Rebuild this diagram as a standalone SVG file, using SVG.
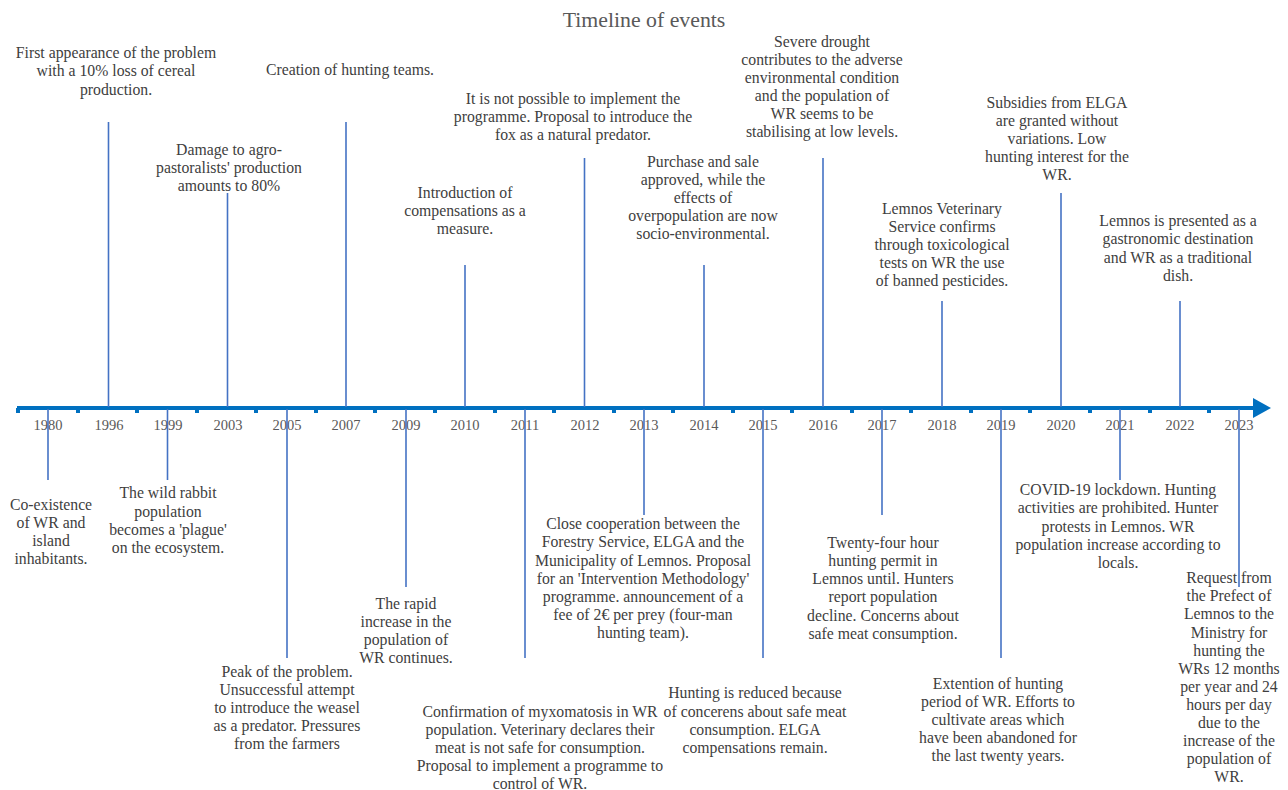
<svg xmlns="http://www.w3.org/2000/svg" width="1288" height="790" viewBox="0 0 1288 790">
<style>
.t{font-family:'Liberation Serif','DejaVu Serif',serif;font-size:15.75px;fill:#404040;text-anchor:middle}
.y{font-family:'Liberation Serif','DejaVu Serif',serif;font-size:14.5px;fill:#595959;text-anchor:middle}
.title{font-family:'Liberation Serif','DejaVu Serif',serif;font-size:21.8px;fill:#595959;text-anchor:middle}
.c{stroke:#4472C4;stroke-width:1.6;fill:none}
.axis{stroke:#0070C0;stroke-width:4;fill:none}
.tick{fill:#0070C0}
</style>
<defs>
<marker id="ah" markerWidth="5" markerHeight="5" refX="0" refY="2.5" orient="auto" markerUnits="strokeWidth">
<path d="M0,0 L4.5,2.5 L0,5 Z" fill="#0070C0"/>
</marker>
</defs>
<rect width="1288" height="790" fill="#ffffff"/>
<text class="title" x="644" y="27">Timeline of events</text>

<g id="axis">
<line class="axis" x1="17" y1="408" x2="1253" y2="408" marker-end="url(#ah)"/>
<g class="tick">
<rect x="16" y="408" width="4" height="5"/><rect x="76" y="408" width="4" height="5"/><rect x="135" y="408" width="4" height="5"/><rect x="195" y="408" width="4" height="5"/><rect x="254" y="408" width="4" height="5"/><rect x="314" y="408" width="4" height="5"/><rect x="373" y="408" width="4" height="5"/><rect x="433" y="408" width="4" height="5"/><rect x="493" y="408" width="4" height="5"/><rect x="552" y="408" width="4" height="5"/><rect x="612" y="408" width="4" height="5"/><rect x="671" y="408" width="4" height="5"/><rect x="731" y="408" width="4" height="5"/><rect x="790" y="408" width="4" height="5"/><rect x="850" y="408" width="4" height="5"/><rect x="909" y="408" width="4" height="5"/><rect x="969" y="408" width="4" height="5"/><rect x="1028" y="408" width="4" height="5"/><rect x="1088" y="408" width="4" height="5"/><rect x="1148" y="408" width="4" height="5"/><rect x="1207" y="408" width="4" height="5"/>
</g>
<g>
<text class="y" x="48" y="430">1980</text><text class="y" x="109" y="430">1996</text><text class="y" x="168" y="430">1999</text><text class="y" x="228" y="430">2003</text><text class="y" x="287" y="430">2005</text><text class="y" x="346" y="430">2007</text><text class="y" x="406" y="430">2009</text><text class="y" x="465" y="430">2010</text><text class="y" x="525" y="430">2011</text><text class="y" x="585" y="430">2012</text><text class="y" x="644" y="430">2013</text><text class="y" x="704" y="430">2014</text><text class="y" x="763" y="430">2015</text><text class="y" x="823" y="430">2016</text><text class="y" x="882" y="430">2017</text><text class="y" x="942" y="430">2018</text><text class="y" x="1001" y="430">2019</text><text class="y" x="1061" y="430">2020</text><text class="y" x="1120" y="430">2021</text><text class="y" x="1180" y="430">2022</text><text class="y" x="1239" y="430">2023</text>
</g>
</g>

<g id="connectors">
<line class="c" x1="108.5" y1="122" x2="108.5" y2="407"/>
<line class="c" x1="227.5" y1="193" x2="227.5" y2="407"/>
<line class="c" x1="346" y1="122" x2="346" y2="407"/>
<line class="c" x1="465" y1="265" x2="465" y2="407"/>
<line class="c" x1="584.5" y1="158" x2="584.5" y2="407"/>
<line class="c" x1="704" y1="265" x2="704" y2="407"/>
<line class="c" x1="823" y1="158" x2="823" y2="407"/>
<line class="c" x1="942" y1="301" x2="942" y2="407"/>
<line class="c" x1="1061" y1="193" x2="1061" y2="407"/>
<line class="c" x1="1180" y1="301" x2="1180" y2="407"/>
<line class="c" x1="48" y1="409" x2="48" y2="480"/>
<line class="c" x1="167.5" y1="409" x2="167.5" y2="480"/>
<line class="c" x1="287" y1="409" x2="287" y2="658"/>
<line class="c" x1="406" y1="409" x2="406" y2="587"/>
<line class="c" x1="525" y1="409" x2="525" y2="658"/>
<line class="c" x1="644" y1="409" x2="644" y2="515"/>
<line class="c" x1="763" y1="409" x2="763" y2="658"/>
<line class="c" x1="882" y1="409" x2="882" y2="515"/>
<line class="c" x1="1001" y1="409" x2="1001" y2="658"/>
<line class="c" x1="1120" y1="409" x2="1120" y2="480"/>
<line class="c" x1="1239" y1="409" x2="1239" y2="587"/>
</g>

<g id="e1996"><text class="t" x="116" y="58">First appearance  of the problem</text><text class="t" x="116" y="76">with a 10% loss of cereal</text><text class="t" x="116" y="95">production.</text></g>
<g id="e2003"><text class="t" x="229" y="155">Damage to agro-</text><text class="t" x="229" y="173">pastoralists' production</text><text class="t" x="229" y="191">amounts to 80%</text></g>
<g id="e2007"><text class="t" x="350" y="75">Creation of hunting teams.</text></g>
<g id="e2010"><text class="t" x="465" y="198">Introduction of</text><text class="t" x="465" y="216">compensations as a</text><text class="t" x="465" y="234">measure.</text></g>
<g id="e2012"><text class="t" x="573" y="104">It is not possible to implement the</text><text class="t" x="573" y="122">programme. Proposal to introduce the</text><text class="t" x="573" y="140">fox as a natural predator.</text></g>
<g id="e2014"><text class="t" x="703" y="167">Purchase and sale</text><text class="t" x="703" y="185">approved, while the</text><text class="t" x="703" y="203">effects of</text><text class="t" x="703" y="221">overpopulation are now</text><text class="t" x="703" y="239">socio-environmental.</text></g>
<g id="e2016"><text class="t" x="822" y="47">Severe drought</text><text class="t" x="822" y="65">contributes to the adverse</text><text class="t" x="822" y="83">environmental condition</text><text class="t" x="822" y="101">and the population of</text><text class="t" x="822" y="119">WR seems to be</text><text class="t" x="822" y="137">stabilising at low levels.</text></g>
<g id="e2018"><text class="t" x="942" y="214">Lemnos Veterinary</text><text class="t" x="942" y="232">Service confirms</text><text class="t" x="942" y="250">through toxicological</text><text class="t" x="942" y="268">tests on WR the use</text><text class="t" x="942" y="286">of banned pesticides.</text></g>
<g id="e2020"><text class="t" x="1057" y="108">Subsidies from ELGA</text><text class="t" x="1057" y="126">are granted without</text><text class="t" x="1057" y="144">variations. Low</text><text class="t" x="1057" y="162">hunting interest for the</text><text class="t" x="1057" y="180">WR.</text></g>
<g id="e2022"><text class="t" x="1178" y="226">Lemnos is presented as a</text><text class="t" x="1178" y="244">gastronomic destination</text><text class="t" x="1178" y="263">and WR as a traditional</text><text class="t" x="1178" y="281">dish.</text></g>

<g id="e1980"><text class="t" x="51" y="510">Co-existence</text><text class="t" x="51" y="528">of WR and</text><text class="t" x="51" y="546">island</text><text class="t" x="51" y="564">inhabitants.</text></g>
<g id="e1999"><text class="t" x="168" y="498">The wild rabbit</text><text class="t" x="168" y="517">population</text><text class="t" x="168" y="535">becomes a 'plague'</text><text class="t" x="168" y="553">on the ecosystem.</text></g>
<g id="e2005"><text class="t" x="287" y="677">Peak of the problem.</text><text class="t" x="287" y="695">Unsuccessful attempt</text><text class="t" x="287" y="713">to introduce the weasel</text><text class="t" x="287" y="731">as a predator. Pressures</text><text class="t" x="287" y="749">from the farmers</text></g>
<g id="e2009"><text class="t" x="406" y="609">The rapid</text><text class="t" x="406" y="627">increase in the</text><text class="t" x="406" y="645">population of</text><text class="t" x="406" y="663">WR continues.</text></g>
<g id="e2011"><text class="t" x="540" y="717">Confirmation of myxomatosis in WR</text><text class="t" x="540" y="735">population. Veterinary declares their</text><text class="t" x="540" y="753">meat is not safe for consumption.</text><text class="t" x="540" y="771">Proposal to implement a programme to</text><text class="t" x="540" y="789">control of WR.</text></g>
<g id="e2013"><text class="t" x="643" y="529">Close cooperation between the</text><text class="t" x="643" y="547">Forestry Service, ELGA and the</text><text class="t" x="643" y="566">Municipality of Lemnos. Proposal</text><text class="t" x="643" y="584">for an 'Intervention Methodology'</text><text class="t" x="643" y="602">programme. announcement of a</text><text class="t" x="643" y="620">fee of 2€ per prey (four-man</text><text class="t" x="643" y="638">hunting team).</text></g>
<g id="e2015"><text class="t" x="755" y="698">Hunting is reduced because</text><text class="t" x="755" y="717">of concerens about safe meat</text><text class="t" x="755" y="735">consumption. ELGA</text><text class="t" x="755" y="753">compensations remain.</text></g>
<g id="e2017"><text class="t" x="883" y="548">Twenty-four hour</text><text class="t" x="883" y="566">hunting permit in</text><text class="t" x="883" y="584">Lemnos until. Hunters</text><text class="t" x="883" y="602">report population</text><text class="t" x="883" y="621">decline. Concerns about</text><text class="t" x="883" y="639">safe meat consumption.</text></g>
<g id="e2019"><text class="t" x="998" y="689">Extention of hunting</text><text class="t" x="998" y="707">period of WR. Efforts to</text><text class="t" x="998" y="725">cultivate areas which</text><text class="t" x="998" y="743">have been abandoned  for</text><text class="t" x="998" y="761">the last twenty years.</text></g>
<g id="e2021"><text class="t" x="1118" y="495">COVID-19 lockdown. Hunting</text><text class="t" x="1118" y="513">activities are prohibited. Hunter</text><text class="t" x="1118" y="532">protests in Lemnos.  WR</text><text class="t" x="1118" y="550">population increase according to</text><text class="t" x="1118" y="568">locals.</text></g>
<g id="e2023"><text class="t" x="1229" y="583">Request from</text><text class="t" x="1229" y="601">the Prefect of</text><text class="t" x="1229" y="619">Lemnos to the</text><text class="t" x="1229" y="638">Ministry  for</text><text class="t" x="1229" y="656">hunting the</text><text class="t" x="1229" y="674">WRs 12 months</text><text class="t" x="1229" y="692">per year and 24</text><text class="t" x="1229" y="710">hours per day</text><text class="t" x="1229" y="728">due to the</text><text class="t" x="1229" y="746">increase of the</text><text class="t" x="1229" y="764">population of</text><text class="t" x="1229" y="782">WR.</text></g>
</svg>
